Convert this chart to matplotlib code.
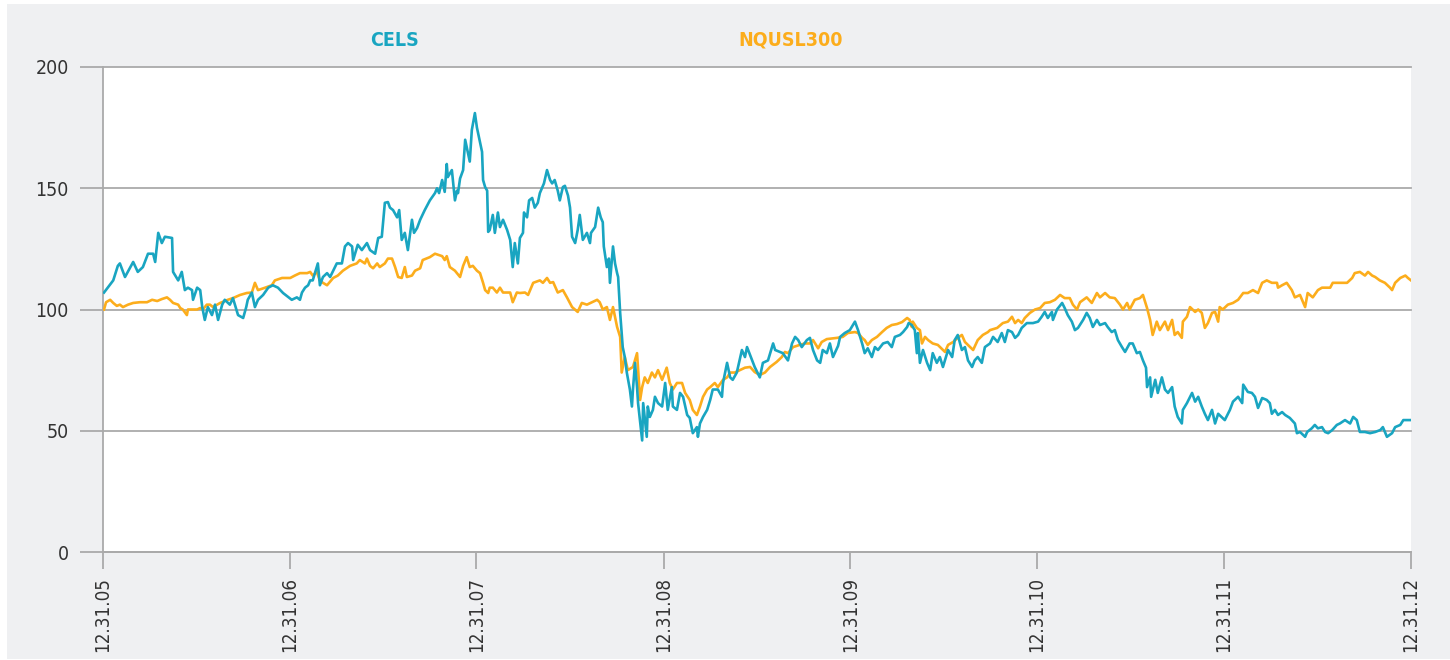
# encoding=utf-8
'''
CELS vs NQUSL300, indexed to 100 at 12.31.05
'''
import matplotlib
matplotlib.use('Agg')
import matplotlib.pyplot as plt
from matplotlib.patches import Rectangle
import pandas as pd

plt.rcParams['font.family'] = ['DejaVu Sans']
plt.rcParams['font.stretch'] = 'condensed'

start = pd.Timestamp('2005-12-31')

# days since 12.31.05 / indexed value
cels_days = [2, 20, 29, 33, 43, 59, 68, 78, 88, 98, 102, 108, 115, 121, 135, 137, 147, 154, 160, 166,
             174, 176, 184, 190, 194, 199, 205, 213, 219, 225, 233, 238, 248, 254, 264, 274, 280, 283, 291, 297,
             303, 313, 323, 332, 342, 352, 369, 379, 385, 389, 395, 401, 405, 410, 420, 424, 430, 438, 444, 457,
             467, 473, 479, 487, 489, 498, 506, 516, 522, 532, 538, 545, 551, 557, 561, 567, 575, 579, 584, 590,
             596, 604, 608, 614, 620, 629, 639, 649, 653, 657, 663, 668, 672, 674, 682, 684, 688, 692, 694, 698,
             704, 708, 713, 717, 721, 727, 731, 741, 743, 747, 751, 753, 756, 762, 766, 772, 776, 782, 790, 796,
             801, 805, 811, 815, 821, 823, 829, 833, 839, 844, 850, 854, 862, 868, 874, 878, 883, 889, 893, 899,
             903, 909, 913, 917, 923, 928, 932, 938, 946, 952, 954, 962, 968, 973, 977, 979, 985, 989, 991, 997,
             1001, 1005, 1007, 1011, 1014, 1016, 1020, 1024, 1030, 1034, 1036, 1040, 1044, 1046, 1054, 1056, 1063, 1065, 1069, 1075,
             1079, 1085, 1093, 1099, 1104, 1112, 1114, 1122, 1128, 1134, 1142, 1147, 1153, 1161, 1163, 1167, 1173, 1181, 1187, 1192,
             1202, 1210, 1212, 1220, 1226, 1231, 1239, 1249, 1255, 1259, 1269, 1274, 1284, 1290, 1300, 1310, 1314, 1329, 1339, 1347,
             1353, 1359, 1366, 1376, 1382, 1388, 1396, 1402, 1407, 1415, 1421, 1427, 1437, 1441, 1450, 1460, 1470, 1476, 1484, 1489,
             1495, 1503, 1509, 1515, 1525, 1534, 1542, 1548, 1558, 1564, 1572, 1575, 1581, 1587, 1591, 1593, 1597, 1603, 1611, 1617,
             1622, 1630, 1636, 1642, 1652, 1660, 1665, 1671, 1679, 1685, 1691, 1699, 1704, 1710, 1718, 1724, 1734, 1740, 1749, 1757,
             1763, 1769, 1777, 1783, 1789, 1796, 1806, 1818, 1828, 1835, 1841, 1847, 1855, 1857, 1865, 1875, 1880, 1886, 1894, 1900,
             1906, 1916, 1923, 1929, 1935, 1943, 1949, 1959, 1964, 1972, 1978, 1984, 1992, 1998, 2007, 2013, 2021, 2027, 2033, 2039,
             2041, 2047, 2049, 2057, 2062, 2070, 2076, 2082, 2090, 2095, 2101, 2109, 2111, 2119, 2129, 2135, 2141, 2148, 2154, 2160,
             2168, 2174, 2180, 2193, 2203, 2209, 2219, 2227, 2229, 2238, 2246, 2252, 2258, 2266, 2275, 2281, 2285, 2291, 2297, 2305,
             2311, 2320, 2330, 2334, 2340, 2350, 2354, 2363, 2369, 2375, 2383, 2389, 2395, 2403, 2412, 2418, 2428, 2438, 2444, 2451,
             2457, 2467, 2477, 2487, 2497, 2502, 2510, 2520, 2526, 2536, 2542, 2557]
cels = [107, 112, 118, 119, 113.4, 119.6, 115.5, 117.5, 123, 123, 119.6, 131.6, 127.4, 130, 129.5, 115.5, 112, 115.5, 108, 109,
        108, 104, 109, 108, 101, 95.7, 101, 97.7, 102, 95.7, 102, 104, 102, 104.7, 97.7, 96.5, 101, 104, 107, 101,
        104, 106, 109, 110, 109, 106.8, 104, 105, 104, 107, 109, 110, 112, 112, 119, 110, 113.4, 115, 113.4, 119,
        119, 126, 127.4, 126, 120.4, 126.7, 124.5, 127.4, 124.5, 123, 129.5, 130, 144, 144.3, 142, 141, 138, 141, 128.7, 131.6,
        124.5, 137, 131.6, 133.6, 137, 141, 145, 148, 150, 148, 153.4, 148.5, 160, 154.6, 157.5, 153.4, 145, 149, 148, 154,
        157.5, 170, 165, 161, 174, 181, 175, 165, 153.4, 150.5, 149, 132, 132.8, 139, 131.6, 140, 134, 137, 132.8, 128.7,
        117.5, 127.4, 119, 129.5, 131.6, 140, 138, 145, 146, 142, 144, 148, 152, 157.5, 153.4, 152, 153.4, 149, 145, 150.5,
        151, 147, 142, 130, 127.4, 132.8, 139, 128.7, 131.6, 127.4, 131.6, 134, 142, 138, 136, 126, 117.5, 121, 111, 126,
        119, 115, 113.4, 98.6, 90.3, 84.5, 80.4, 74, 67, 60, 67, 78, 68, 61.4, 46, 61.4, 47.5, 60, 55.7, 58.6,
        64, 61.4, 60, 69.7, 58.6, 68, 60, 58.6, 65.6, 64, 56.5, 55.3, 49, 51.5, 47.5, 53, 55.7, 58.6, 62.7, 67,
        67, 64, 69.7, 78, 72, 71, 74, 83.3, 80.4, 84.5, 79, 76.3, 72, 78, 79, 86, 83.3, 82, 79, 86,
        88.7, 87.4, 84.5, 87.4, 88.3, 83.3, 79, 78, 83.3, 82, 86, 80.4, 85, 88.7, 90.3, 91.5, 95, 91.5, 86, 82,
        84, 80.4, 84.5, 83.3, 86, 86.6, 84.5, 88.7, 89.5, 90.7, 92.8, 94.4, 93.6, 91.5, 82, 90.3, 78, 83.3, 78, 75,
        82, 78, 80.4, 76.3, 83.3, 80.4, 87.4, 89.5, 83.3, 84.5, 79, 76.3, 79, 80.4, 78, 84.5, 86, 88.7, 86.6, 90.3,
        86.6, 91.5, 90.7, 88.3, 89.5, 92.4, 94.4, 94.4, 95, 97, 99, 96.5, 99, 95.7, 100, 102.7, 100.6, 97.7, 95, 91.5,
        92.4, 95.7, 98.6, 96.5, 92.8, 95.7, 93.6, 94.4, 92.8, 90.7, 91.5, 87.4, 84.5, 82.5, 86, 86, 82, 82.5, 79, 76,
        68, 72, 64, 71, 65.6, 72, 67, 65.6, 68, 60, 55.7, 53, 58.6, 61.4, 65.6, 62, 64, 60, 57, 54.4,
        58.6, 53, 57, 54.4, 58.6, 62, 64, 61.4, 69, 66, 65.6, 64, 59.4, 63.5, 62.7, 61.4, 57, 58.6, 56.5, 57.7,
        56.5, 55.3, 53, 49, 49.5, 47.5, 49.5, 51, 52.4, 51, 51.5, 49.5, 49, 50.3, 52.4, 53, 54.4, 53, 55.7, 54.4,
        49.5, 49.5, 49, 49.5, 50.3, 51.5, 47.5, 49, 51.5, 52.4, 54.4, 54.4]

nq_days = [2, 6, 14, 20, 27, 33, 39, 49, 59, 72, 86, 96, 106, 115, 125, 131, 137, 147, 151, 156,
           164, 166, 184, 190, 195, 203, 209, 215, 229, 244, 254, 268, 281, 291, 297, 303, 317, 330, 336, 350,
           366, 375, 385, 399, 405, 410, 418, 424, 430, 438, 450, 459, 469, 483, 496, 502, 512, 516, 522, 528,
           536, 541, 551, 557, 565, 571, 577, 584, 590, 594, 604, 610, 620, 625, 639, 649, 663, 668, 672, 678,
           688, 698, 704, 711, 717, 723, 731, 737, 743, 747, 753, 756, 762, 770, 776, 782, 796, 801, 809, 815,
           825, 831, 841, 854, 860, 868, 874, 880, 889, 899, 907, 917, 928, 936, 946, 956, 966, 971, 977, 985,
           991, 997, 1005, 1011, 1014, 1020, 1026, 1036, 1044, 1050, 1054, 1059, 1065, 1073, 1079, 1085, 1093, 1102, 1108, 1114,
           1122, 1132, 1138, 1147, 1153, 1161, 1167, 1173, 1181, 1187, 1196, 1202, 1212, 1220, 1226, 1235, 1245, 1255, 1265, 1274,
           1284, 1294, 1304, 1317, 1327, 1333, 1339, 1349, 1362, 1372, 1382, 1388, 1398, 1405, 1415, 1435, 1446, 1456, 1470, 1476,
           1484, 1489, 1495, 1503, 1513, 1523, 1532, 1542, 1552, 1562, 1572, 1577, 1581, 1583, 1591, 1597, 1601, 1607, 1613, 1622,
           1632, 1642, 1646, 1652, 1662, 1671, 1679, 1685, 1695, 1701, 1710, 1720, 1730, 1734, 1748, 1759, 1769, 1777, 1783, 1789,
           1796, 1802, 1812, 1822, 1832, 1841, 1851, 1861, 1871, 1880, 1890, 1896, 1904, 1910, 1923, 1933, 1943, 1949, 1959, 1968,
           1978, 1988, 1994, 2002, 2007, 2017, 2027, 2033, 2041, 2047, 2052, 2060, 2066, 2076, 2082, 2090, 2095, 2101, 2109, 2111,
           2119, 2125, 2135, 2141, 2148, 2150, 2154, 2160, 2168, 2174, 2180, 2183, 2189, 2199, 2209, 2219, 2229, 2238, 2248, 2258,
           2266, 2275, 2285, 2295, 2297, 2305, 2314, 2324, 2330, 2340, 2350, 2355, 2365, 2375, 2383, 2393, 2399, 2404, 2418, 2432,
           2442, 2447, 2457, 2467, 2473, 2481, 2487, 2496, 2506, 2516, 2520, 2526, 2536, 2546, 2551, 2557]
nqusl300 = [100, 103, 104, 102.7, 101.5, 102, 101, 102, 102.7, 103, 103, 104, 103.5, 104.3, 105, 104, 102.7, 102, 100.6, 100,
            97.7, 100, 100, 100.6, 100, 102, 102, 101, 102.7, 104, 104.7, 106, 106.8, 107, 111, 108, 109, 110, 112, 113,
            113, 114, 115, 115, 115.5, 114, 115.5, 112, 111, 110, 113, 114, 116, 118, 119, 120.4, 119, 121, 118, 117,
            119, 117.5, 119, 121, 121, 117.5, 113.4, 113, 117.5, 113.4, 114, 116, 117, 120.4, 121.6, 123, 122, 120.4, 122, 117.5,
            116, 113.4, 118, 121.6, 117.5, 118, 116, 115, 111, 108, 106.8, 109, 109, 107, 109, 107, 107, 103, 107, 106.8,
            107, 106, 111, 112, 111, 113, 111, 111.3, 107, 108, 105, 101, 99, 102.7, 102, 103, 104, 103, 100, 101,
            95.7, 101, 92.8, 88.7, 74, 80.4, 75, 76.3, 82, 62.7, 68, 72, 69.7, 74, 72, 75, 71, 76, 69.7, 67,
            69.7, 69.7, 65.6, 62.7, 58.6, 56.5, 60, 64, 67, 68, 69.7, 68, 71, 72, 74, 74, 75, 76, 76.3, 74.2,
            73, 74, 76.3, 78.4, 80.4, 82.5, 82, 84.5, 85.4, 86, 86, 87.4, 84, 86.6, 87.8, 88.3, 88.7, 90.3, 90.7, 90.3,
            88.3, 87.4, 85.4, 87.4, 88.7, 90.7, 92.4, 93.6, 94, 94.8, 96.5, 95.7, 92.8, 95, 92.4, 91.5, 86, 88.7, 87.4, 86,
            85.4, 83.3, 82.5, 85.4, 86.6, 88.3, 89.5, 86.6, 84.5, 83.3, 87.4, 89.5, 90.7, 91.5, 92.4, 94.4, 95, 97, 94.4, 95.7,
            94.4, 96.5, 98.6, 100, 100.6, 102.7, 103, 104, 106, 104.7, 104.7, 102, 100, 103, 105, 102.7, 106.8, 105, 106.8, 105,
            104.7, 102, 100, 102.7, 100, 104, 104.7, 106, 100.6, 95.7, 89.5, 95, 91.5, 95, 91.5, 95.7, 89.5, 90.7, 88.3, 95,
            97, 101, 99, 100, 98.6, 96.5, 92.4, 94.4, 98.6, 99, 95, 101, 100, 102, 102.7, 104, 106.8, 106.8, 108, 106.8,
            111, 112, 111, 111, 109, 110, 111, 108, 105, 106, 101, 106.8, 105, 108, 109, 109, 109, 111, 111, 111,
            113, 115, 115.5, 114, 115.5, 114, 113.4, 112, 111, 109, 108, 111, 113, 114, 113, 112]

names = ['CELS', 'NQUSL300']
colors = ['#19a5c1', '#fcad1c']
year_ticks = pd.date_range('2005-12-31', '2012-12-31', freq='YE')
tick_labels = [d.strftime('%m.%d.%y') for d in year_ticks]

fig = plt.figure(figsize=(14.5, 6.6), dpi=100, facecolor='white')
# grey panel behind everything
fig.patches.append(Rectangle((7 / 1450, 1 / 660), 1 - 7 / 1450, 1 - 5 / 660,
                             transform=fig.transFigure, facecolor='#eff0f2',
                             edgecolor='none', zorder=-1))

ax = fig.add_axes([103 / 1450, 108 / 660, 1308 / 1450, 485 / 660])
ax.set_facecolor('white')

x1 = start + pd.to_timedelta(cels_days, unit='D')
x2 = start + pd.to_timedelta(nq_days, unit='D')
ax.plot(x2, nqusl300, color=colors[1], lw=1.9, zorder=3)
ax.plot(x1, cels, color=colors[0], lw=1.9, zorder=4)

ax.set_xlim(year_ticks[0], year_ticks[-1])
ax.set_ylim(0, 200)
ax.set_yticks([0, 50, 100, 150, 200])
ax.set_xticks(year_ticks)
ax.set_xticklabels(tick_labels, rotation=90)

grid_c = '#aaaaaa'
ax.yaxis.grid(True, color=grid_c, lw=1.3)
ax.xaxis.grid(False)
for s in ['top', 'right']:
    ax.spines[s].set_visible(False)
for s in ['left', 'bottom']:
    ax.spines[s].set_color(grid_c)
    ax.spines[s].set_linewidth(1.3)
ax.tick_params(axis='y', length=16.5, width=1.3, color=grid_c, pad=8,
               labelsize=14, labelcolor='#333333')
ax.tick_params(axis='x', length=12, width=1.3, color=grid_c, pad=6,
               labelsize=13.5, labelcolor='#333333')
for lab in ax.get_xticklabels() + ax.get_yticklabels():
    lab.set_fontstretch('condensed')
for gl in ax.yaxis.get_gridlines():
    gl.set_clip_on(False)

# legend as coloured names above the plot
fig.text(394 / 1450, 1 - 40 / 660, names[0], color=colors[0], fontsize=14,
         fontweight='bold', fontstretch='condensed', ha='center', va='center')
fig.text(791 / 1450, 1 - 40 / 660, names[1], color=colors[1], fontsize=14,
         fontweight='bold', fontstretch='condensed', ha='center', va='center')

fig.savefig('out.png', dpi=100, facecolor=fig.get_facecolor())
